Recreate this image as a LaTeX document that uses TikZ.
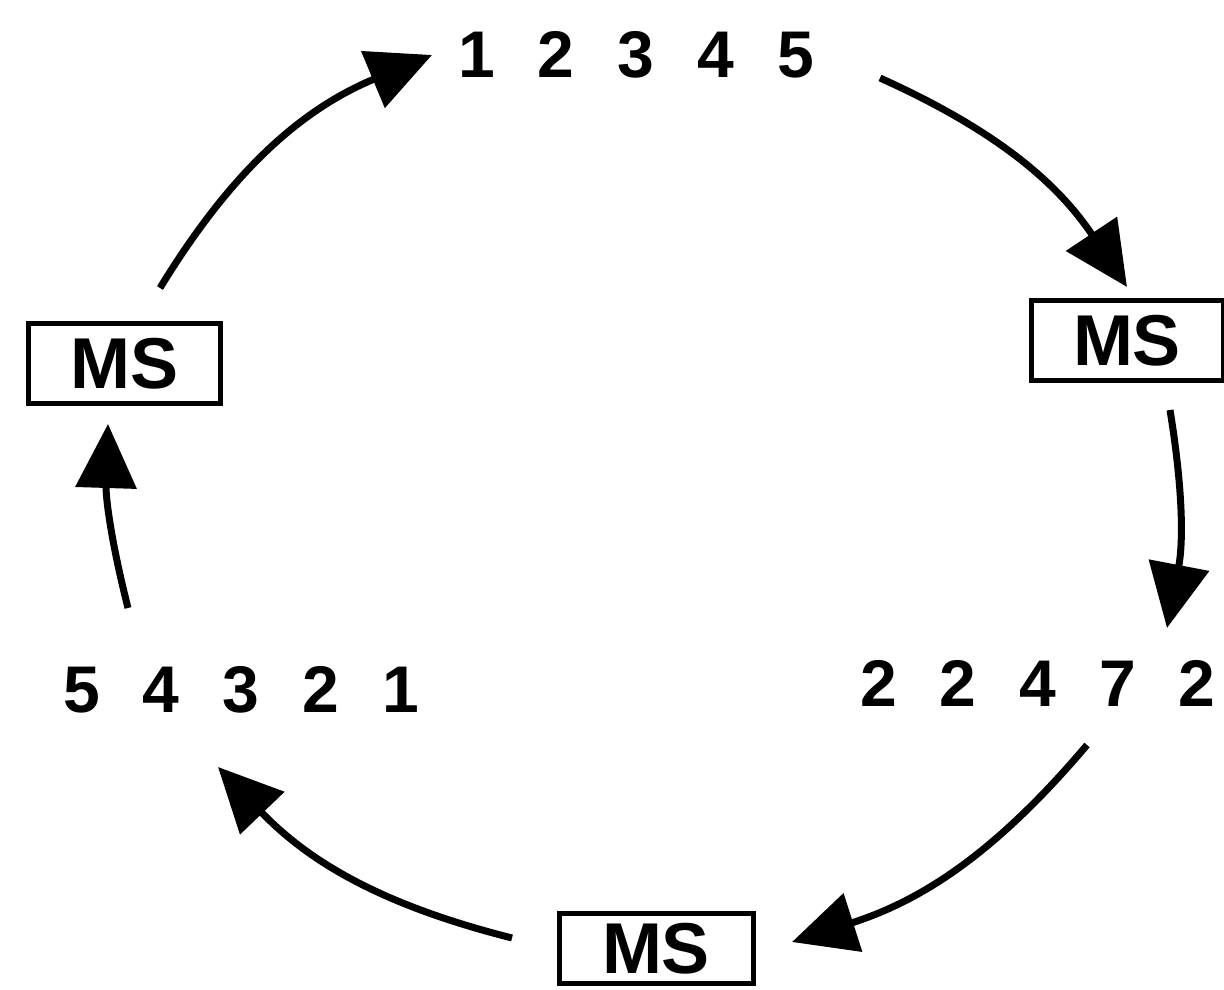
\documentclass[tikz,border=0pt]{standalone}
\usepackage{fontspec}
\setmainfont{Liberation Sans}
\usetikzlibrary{arrows.meta}
\newcommand{\dg}{\hspace{43pt}}
\tikzset{
  msbox/.style={draw, line width=5pt, inner sep=0pt, font=\fontsize{72}{72}\selectfont\bfseries},
  digits/.style={inner sep=0pt, font=\fontsize{66}{66}\selectfont\bfseries},
  cyc/.style={line width=7pt, -{Triangle[length=64pt,width=60pt]}}
}
\begin{document}
\begin{tikzpicture}[x=1pt,y=1pt]
\useasboundingbox (0,0) rectangle (1224,990);
% number rows
\node[digits] (top) at (636,935) {1\dg2\dg3\dg4\dg5};
\node[digits, anchor=west] (right) at (860,307) {2\dg2\dg4\dg7\dg2};
\node[digits] (left) at (241,300) {5\dg4\dg3\dg2\dg1};
% MS boxes
\node[msbox, minimum width=192pt, minimum height=80pt] (msr) at (1127,649) {MS};
\node[msbox, minimum width=192pt, minimum height=80pt] (msl) at (124.5,626.5) {MS};
\node[msbox, minimum width=194pt, minimum height=70pt] (msb) at (656,41) {MS};
% arrow ends
\coordinate (a1s) at (160,702); \coordinate (a1e) at (432,935);
\coordinate (a2s) at (880,912); \coordinate (a2e) at (1127,703);
\coordinate (a3s) at (1170,580); \coordinate (a3e) at (1167,362);
\coordinate (a4s) at (1087,245); \coordinate (a4e) at (792,48);
\coordinate (a5s) at (512,52);   \coordinate (a5e) at (218,223);
\coordinate (a6s) at (128,382);  \coordinate (a6e) at (108,566);
\draw[cyc] (a1s) to[bend left=18] (a1e);
\draw[cyc] (a2s) to[bend left=16] (a2e);
\draw[cyc] (a3s) to[bend left=10] (a3e);
\draw[cyc] (a4s) to[bend left=16] (a4e);
\draw[cyc] (a5s) to[bend left=16] (a5e);
\draw[cyc] (a6s) to[bend left=8] (a6e);
\end{tikzpicture}
\end{document}
